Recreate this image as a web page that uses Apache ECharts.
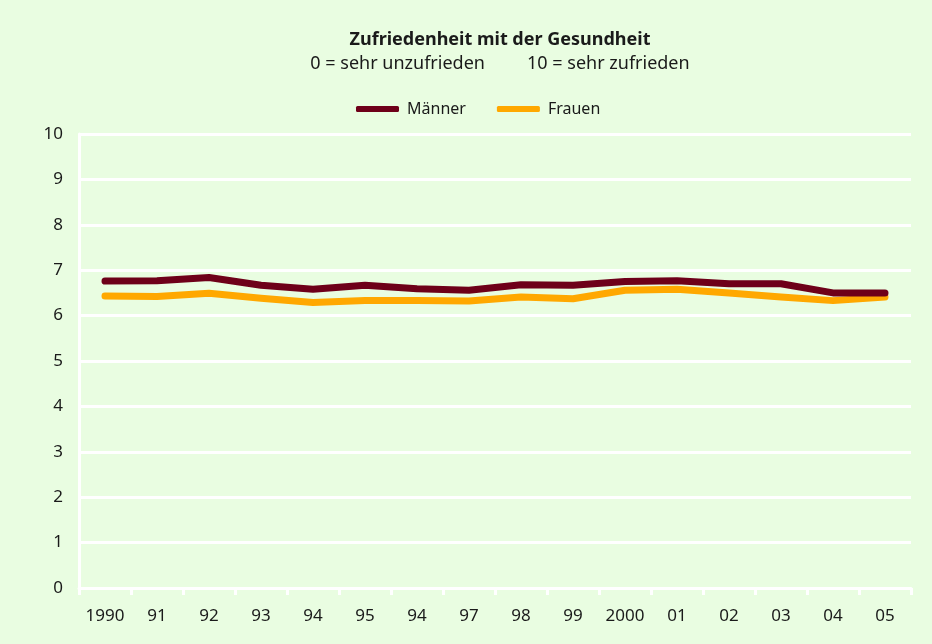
<!DOCTYPE html>
<html>
<head>
<meta charset="utf-8">
<script src="https://cdn.jsdelivr.net/npm/echarts@6/dist/echarts.min.js"></script>
<style>
  html, body { margin: 0; padding: 0; background: #e9fde1; }
  #chart { width: 932px; height: 644px; }
</style>
</head>
<body>
<div id="chart"></div>
<script>
// Jahre (Kategorien der x-Achse, wie im Original beschriftet)
const years = ['1990', '91', '92', '93', '94', '95', '94', '97', '98', '99', '2000', '01', '02', '03', '04', '05']
// Zufriedenheit mit der Gesundheit, 0 bis 10
const maenner = [6.76, 6.77, 6.84, 6.67, 6.58, 6.67, 6.59, 6.56, 6.68, 6.67, 6.75, 6.77, 6.70, 6.70, 6.50, 6.50]
const frauen = [6.43, 6.42, 6.49, 6.38, 6.29, 6.33, 6.33, 6.32, 6.41, 6.37, 6.56, 6.58, 6.50, 6.41, 6.33, 6.41]

const font = 'Noto Sans'
const chart = echarts.init(document.getElementById('chart'))

chart.setOption({
  backgroundColor: '#e9fde1',
  animation: false,
  textStyle: { fontFamily: font },
  title: {
    text: 'Zufriedenheit mit der Gesundheit',
    subtext: '0 = sehr unzufrieden         10 = sehr zufrieden',
    left: 495,
    textAlign: 'center',
    top: 26,
    itemGap: 6,
    textStyle: { fontFamily: font, fontSize: 18, fontWeight: 'bold', color: '#1a1a1a' },
    subtextStyle: { fontFamily: font, fontSize: 18, color: '#1a1a1a' }
  },
  legend: {
    top: 96,
    left: 351,
    itemWidth: 43,
    itemHeight: 6,
    itemGap: 31,
    icon: 'roundRect',
    textStyle: { fontFamily: font, fontSize: 16, color: '#1a1a1a', padding: [0, 0, 0, 3] },
    data: ['Männer', 'Frauen']
  },
  grid: { left: 79, right: 21, top: 134, bottom: 56 },
  xAxis: {
    type: 'category',
    data: years,
    boundaryGap: true,
    axisLine: { lineStyle: { color: '#ffffff', width: 3 } },
    axisTick: { show: true, interval: 0, length: 7, lineStyle: { color: '#ffffff', width: 3 } },
    axisLabel: { interval: 0, margin: 20, fontSize: 17, color: '#1a1a1a', fontFamily: font }
  },
  yAxis: {
    type: 'value',
    min: 0,
    max: 10,
    interval: 1,
    axisLine: { show: true, lineStyle: { color: '#ffffff', width: 3 } },
    axisTick: { show: false },
    splitLine: { lineStyle: { color: '#ffffff', width: 3 } },
    axisLabel: { margin: 16, fontSize: 17, color: '#1a1a1a', fontFamily: font }
  },
  series: [
    {
      name: 'Männer',
      type: 'line',
      data: maenner,
      symbol: 'none',
      z: 3,
      itemStyle: { color: '#6e0019' },
      lineStyle: { color: '#6e0019', width: 7, cap: 'round', join: 'round' }
    },
    {
      name: 'Frauen',
      type: 'line',
      data: frauen,
      symbol: 'none',
      z: 2,
      itemStyle: { color: '#ffa800' },
      lineStyle: { color: '#ffa800', width: 7, cap: 'round', join: 'round' }
    }
  ]
})
</script>
</body>
</html>
